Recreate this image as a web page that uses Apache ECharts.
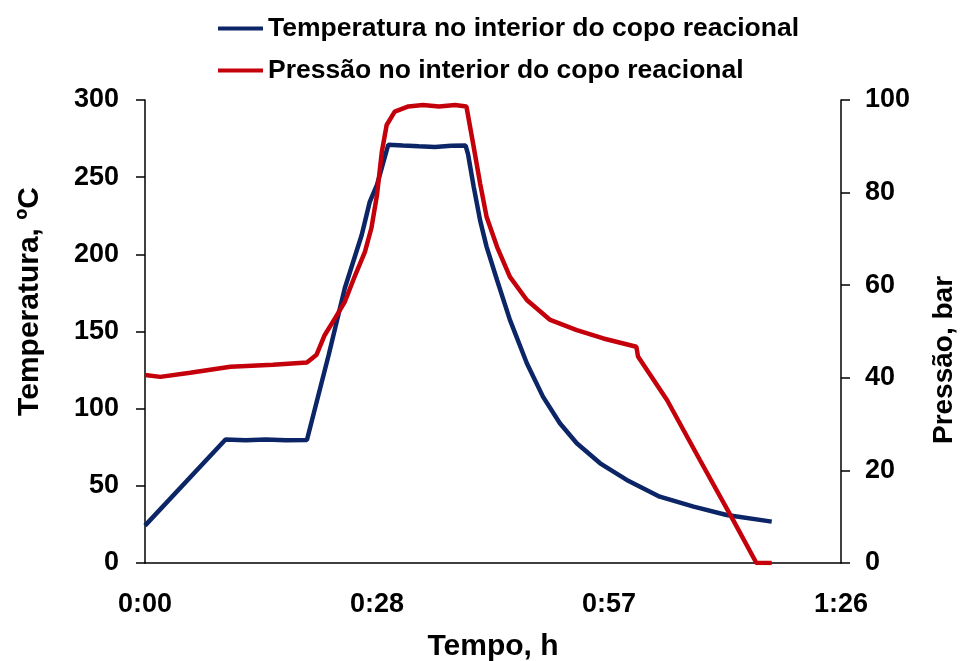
<!DOCTYPE html>
<html>
<head>
<meta charset="utf-8">
<script src="https://cdn.jsdelivr.net/npm/echarts@6/dist/echarts.min.js"></script>
<style>
  html, body { margin: 0; padding: 0; background: #fff; }
  #chart { width: 967px; height: 661px; }
</style>
</head>
<body>
<div id="chart"></div>
<script>
// tempo em minutos (eixo do Excel: 0.02 dia = 28.8 min)
var tempTime = [0, 10.0, 12.5, 15.0, 17.5, 20.1, 22.8, 24.8, 26.9, 27.9, 28.8, 30.2, 32.0, 34.0, 36.0, 38.0, 39.8,
                40.1, 40.8, 41.6, 42.4, 43.7, 45.3, 47.4, 49.4, 51.5, 53.6, 56.5, 59.8, 63.9, 68.1, 72.2, 77.8];
var tempValues = [24.2, 80, 79.5, 80, 79.6, 79.7, 134.8, 178, 212.5, 234, 245, 271, 270.5, 270, 269.6, 270.3, 270.5,
                  265, 243.9, 222, 205, 183.4, 157.5, 129.4, 107.8, 90.5, 77.6, 64.6, 53.8, 43, 36.5, 31.1, 26.8];

var presTime = [0, 1.9, 5.6, 10.6, 15.9, 20.1, 21.3, 22.3, 23.6, 24.8, 26.1, 27.3, 28.1, 28.8, 29.4, 30.0, 31.0, 32.7,
                34.5, 36.5, 38.5, 39.9, 40.8, 41.6, 42.4, 43.7, 45.3, 47.4, 50.3, 53.6, 56.9, 61.0, 61.2,
                64.8, 68.9, 73.0, 75.9, 77.8];
var presValues = [40.6, 40.2, 41.1, 42.4, 42.8, 43.3, 45, 49.2, 52.9, 56.4, 62.2, 67.2, 72.3, 79.5, 88.8, 94.6, 97.5, 98.6,
                  98.9, 98.6, 98.9, 98.6, 89.9, 82, 74.8, 68.3, 61.8, 56.8, 52.5, 50.3, 48.5, 46.7, 44.6,
                  35.2, 22.2, 9.3, 0, 0];

var xTicks = [0, 28.8, 57.6, 86.4];
var tempTicks = [0, 50, 100, 150, 200, 250, 300];
var presTicks = [0, 20, 40, 60, 80, 100];

var seriesNames = ['Temperatura no interior do copo reacional', 'Pressão no interior do copo reacional'];

function pairs(xs, ys) {
    return xs.map(function (x, i) { return [x, ys[i]]; });
}

function fmtTime(min) {
    var m = Math.floor(min + 1e-6);
    var h = Math.floor(m / 60);
    var mm = m % 60;
    return h + ':' + (mm < 10 ? '0' + mm : mm);
}

var FONT = '"Liberation Sans", Arial, sans-serif';
var chart = echarts.init(document.getElementById('chart'));

chart.setOption({
    animation: false,
    backgroundColor: '#fff',
    legend: {
        orient: 'vertical',
        left: 213,
        top: 10,
        icon: 'rect',
        itemWidth: 45,
        itemHeight: 4,
        itemGap: 15,
        data: seriesNames,
        textStyle: { fontFamily: FONT, fontSize: 26.5, fontWeight: 'bold', color: '#000' }
    },
    grid: { left: 145, right: 126, top: 100, bottom: 98, outerBoundsMode: 'none', containLabel: false },
    xAxis: {
        type: 'value',
        min: xTicks[0],
        max: xTicks[xTicks.length - 1],
        interval: xTicks[1] - xTicks[0],
        name: 'Tempo, h',
        nameLocation: 'middle',
        nameGap: 69,
        nameTextStyle: { fontFamily: FONT, fontSize: 30, fontWeight: 'bold', color: '#000' },
        axisLine: { lineStyle: { color: '#000', width: 1.5 } },
        axisTick: { show: false },
        splitLine: { show: false },
        axisLabel: {
            margin: 28,
            fontFamily: FONT, fontSize: 27, fontWeight: 'bold', color: '#000',
            formatter: fmtTime
        }
    },
    yAxis: [
        {
            type: 'value',
            position: 'left',
            min: tempTicks[0],
            max: tempTicks[tempTicks.length - 1],
            interval: tempTicks[1] - tempTicks[0],
            name: 'Temperatura, ºC',
            nameLocation: 'middle',
            nameRotate: 90,
            nameGap: 100,
            nameTextStyle: { fontFamily: FONT, fontSize: 30, fontWeight: 'bold', color: '#000', padding: [0, 0, 0, 60] },
            axisLine: { show: true, lineStyle: { color: '#000', width: 1.5 } },
            axisTick: { show: true, length: 9, lineStyle: { color: '#000', width: 1.5 } },
            splitLine: { show: false },
            axisLabel: { margin: 26, fontFamily: FONT, fontSize: 27, fontWeight: 'bold', color: '#000' }
        },
        {
            type: 'value',
            position: 'right',
            min: presTicks[0],
            max: presTicks[presTicks.length - 1],
            interval: presTicks[1] - presTicks[0],
            name: 'Pressão, bar',
            nameLocation: 'middle',
            nameRotate: 90,
            nameGap: 89,
            nameTextStyle: { fontFamily: FONT, fontSize: 28, fontWeight: 'bold', color: '#000', padding: [0, 57, 0, 0] },
            axisLine: { show: true, lineStyle: { color: '#000', width: 1.5 } },
            axisTick: { show: true, length: 9, lineStyle: { color: '#000', width: 1.5 } },
            splitLine: { show: false },
            axisLabel: { margin: 24, fontFamily: FONT, fontSize: 27, fontWeight: 'bold', color: '#000' }
        }
    ],
    series: [
        {
            name: seriesNames[0],
            type: 'line',
            yAxisIndex: 0,
            showSymbol: false,
            color: '#0b2566',
            lineStyle: { width: 4.5, color: '#0b2566' },
            data: pairs(tempTime, tempValues)
        },
        {
            name: seriesNames[1],
            type: 'line',
            yAxisIndex: 1,
            showSymbol: false,
            color: '#c4000b',
            lineStyle: { width: 4.5, color: '#c4000b' },
            data: pairs(presTime, presValues)
        }
    ]
});
</script>
</body>
</html>
